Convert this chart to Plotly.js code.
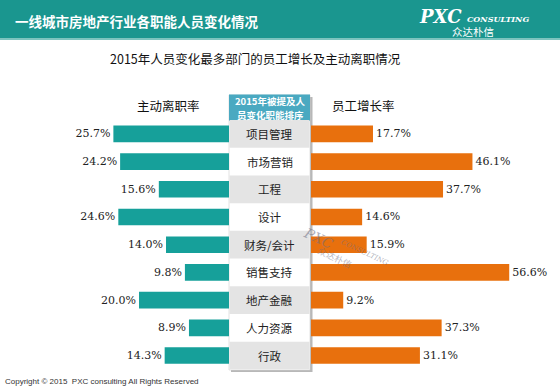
<!DOCTYPE html>
<html>
<head>
<meta charset="utf-8">
<script src="https://cdn.plot.ly/plotly-3.0.1.min.js"></script>
<style>html,body{margin:0;padding:0;background:#fff;}#chart{width:560px;height:387px;}</style>
</head>
<body>
<div id="chart"></div>
<script>
// ---- data ----
const categories = ['项目管理','市场营销','工程','设计','财务/会计','销售支持','地产金融','人力资源','行政'];
const turnoverRate = [25.7, 24.2, 15.6, 24.6, 14.0, 9.8, 20.0, 8.9, 14.3];   // 主动离职率 (%)
const growthRate   = [17.7, 46.1, 37.7, 14.6, 15.9, 56.6, 9.2, 37.3, 31.1];  // 员工增长率 (%)
const mainTitle = '一线城市房地产行业各职能人员变化情况';
const subTitle = '2015年人员变化最多部门的员工增长及主动离职情况';
const leftHeader = '主动离职率';
const rightHeader = '员工增长率';
const centerHeaderLines = ['2015年被提及人', '员变化职能排序'];
const footer = 'Copyright © 2015  PXC consulting All Rights Reserved';

// ---- helpers (pixel -> paper) ----
const W = 560, H = 387;
const px = x => x / W;
const py = y => 1 - y / H;

const CJK = '"Noto Sans CJK SC", "Noto Sans", sans-serif';
const SERIF = '"DejaVu Serif", "Liberation Serif", serif';
const TEAL_BAR = '#16a09a';
const ORANGE = '#e8700d';
const HEADER = '#1a968f';

const traces = [
  {
    type: 'bar', orientation: 'h', y: categories, x: turnoverRate,
    xaxis: 'x', yaxis: 'y', width: 0.6,
    marker: {color: TEAL_BAR},
    texttemplate: '%{x:.1f}%', textposition: 'outside', cliponaxis: false,
    constraintext: 'none',
    textfont: {family: SERIF, size: 11, color: '#222'},
    hoverinfo: 'none'
  },
  {
    type: 'bar', orientation: 'h', y: categories, x: growthRate,
    xaxis: 'x2', yaxis: 'y', width: 0.6,
    marker: {color: ORANGE},
    texttemplate: '%{x:.1f}%', textposition: 'outside', cliponaxis: false,
    constraintext: 'none',
    textfont: {family: SERIF, size: 11, color: '#222'},
    hoverinfo: 'none'
  }
];

const shapes = [
  // header bar
  {type:'rect', xref:'paper', yref:'paper', x0:0, x1:1, y0:py(38), y1:py(0), fillcolor:HEADER, line:{width:0}, layer:'below'},
  {type:'rect', xref:'paper', yref:'paper', x0:0, x1:1, y0:py(40), y1:py(38), fillcolor:'#7cc4bf', line:{width:0}, layer:'below'},
  // center column shadow
  {type:'rect', xref:'paper', yref:'paper', x0:px(231), x1:px(312.5), y0:py(372), y1:py(97), fillcolor:'#b8b8b8', line:{width:0}, layer:'below'},
  // center column body
  {type:'rect', xref:'paper', yref:'paper', x0:px(229), x1:px(310), y0:py(370), y1:py(95), fillcolor:'#ffffff', line:{width:0.6, color:'#d0d0d0'}, layer:'below'},
  // header box
  {type:'rect', xref:'paper', yref:'paper', x0:px(229), x1:px(310), y0:py(121), y1:py(94.5), fillcolor:'#4aa9c1', line:{width:0}, layer:'below'}
];
categories.forEach((c, i) => {
  if (i % 2 === 0) {
    shapes.push({type:'rect', xref:'paper', yref:'y', x0:px(229.5), x1:px(309.5), y0:i-0.5, y1:i+0.5,
      fillcolor:'#e4e4e4', line:{width:0}, layer:'below'});
  }
});

const annotations = [
  {text:'<b>'+mainTitle+'</b>', xref:'paper', yref:'paper', x:px(13), y:py(21), xanchor:'left', yanchor:'middle', showarrow:false,
   font:{family:CJK, size:13.5, color:'#ffffff'}},
  {text:'<b><i>PXC</i></b>', xref:'paper', yref:'paper', x:px(464), y:py(16), xanchor:'right', yanchor:'middle', showarrow:false,
   font:{family:SERIF, size:18, color:'#ffffff'}},
  {text:'<b><i>CONSULTING</i></b>', xref:'paper', yref:'paper', x:px(465), y:py(19), xanchor:'left', yanchor:'middle', showarrow:false,
   font:{family:SERIF, size:8, color:'#ffffff'}},
  {text:'众达朴信', xref:'paper', yref:'paper', x:px(473), y:py(32), xanchor:'center', yanchor:'middle', showarrow:false,
   font:{family:CJK, size:10.5, color:'#ffffff'}},
  {text:subTitle, xref:'paper', yref:'paper', x:px(255), y:py(59), xanchor:'center', yanchor:'middle', showarrow:false,
   font:{family:CJK, size:12.5, color:'#111'}},
  {text:leftHeader, xref:'paper', yref:'paper', x:px(168), y:py(105), xanchor:'center', yanchor:'middle', showarrow:false,
   font:{family:CJK, size:12.5, color:'#111'}},
  {text:rightHeader, xref:'paper', yref:'paper', x:px(363), y:py(105), xanchor:'center', yanchor:'middle', showarrow:false,
   font:{family:CJK, size:12.5, color:'#111'}},
  {text:'<b>'+centerHeaderLines[0]+'</b>', xref:'paper', yref:'paper', x:px(270), y:py(100.8), xanchor:'center', yanchor:'middle', showarrow:false,
   borderpad:0, font:{family:CJK, size:9.5, color:'#ffffff'}},
  {text:'<b>'+centerHeaderLines[1]+'</b>', xref:'paper', yref:'paper', x:px(270), y:py(114.8), xanchor:'center', yanchor:'middle', showarrow:false,
   borderpad:0, font:{family:CJK, size:9.5, color:'#ffffff'}},
  {text:footer, xref:'paper', yref:'paper', x:px(3), y:py(381), xanchor:'left', yanchor:'middle', showarrow:false,
   font:{family:'"Liberation Sans", Arial, sans-serif', size:8, color:'#333'}},
  // watermark
  {text:'<i>PXC</i>', xref:'paper', yref:'paper', x:px(318), y:py(238), xanchor:'center', yanchor:'middle', showarrow:false,
   textangle:25, font:{family:SERIF, size:14, color:'rgba(110,110,130,0.55)'}},
  {text:'<i>CONSULTING</i>', xref:'paper', yref:'paper', x:px(365), y:py(253), xanchor:'center', yanchor:'middle', showarrow:false,
   textangle:25, font:{family:SERIF, size:7, color:'rgba(110,110,130,0.55)'}},
  {text:'众达朴信', xref:'paper', yref:'paper', x:px(335), y:py(257), xanchor:'center', yanchor:'middle', showarrow:false,
   textangle:25, font:{family:CJK, size:9, color:'rgba(110,110,130,0.5)'}}
];
categories.forEach(c => {
  annotations.push({text:c, xref:'paper', yref:'y', x:px(269.5), y:c, xanchor:'center', yanchor:'middle', showarrow:false,
    font:{family:CJK, size:11.5, color:'#222'}});
});

const layout = {
  width: W, height: H,
  margin: {l:0, r:0, t:0, b:0, pad:0},
  paper_bgcolor: '#ffffff', plot_bgcolor: 'rgba(0,0,0,0)',
  showlegend: false, bargap: 0.4,
  xaxis: {domain:[0, px(229)], range:[50.9, 0], visible:false, fixedrange:true},
  xaxis2: {domain:[px(311), 1], range:[0, 71.1], visible:false, anchor:'y', fixedrange:true},
  yaxis: {domain:[py(369.4), py(120)], type:'category', categoryorder:'array', categoryarray:categories,
          range:[categories.length - 0.5, -0.5], visible:false, fixedrange:true},
  shapes: shapes,
  annotations: annotations
};

Plotly.newPlot('chart', traces, layout, {displayModeBar:false, staticPlot:true});
</script>
</body>
</html>
